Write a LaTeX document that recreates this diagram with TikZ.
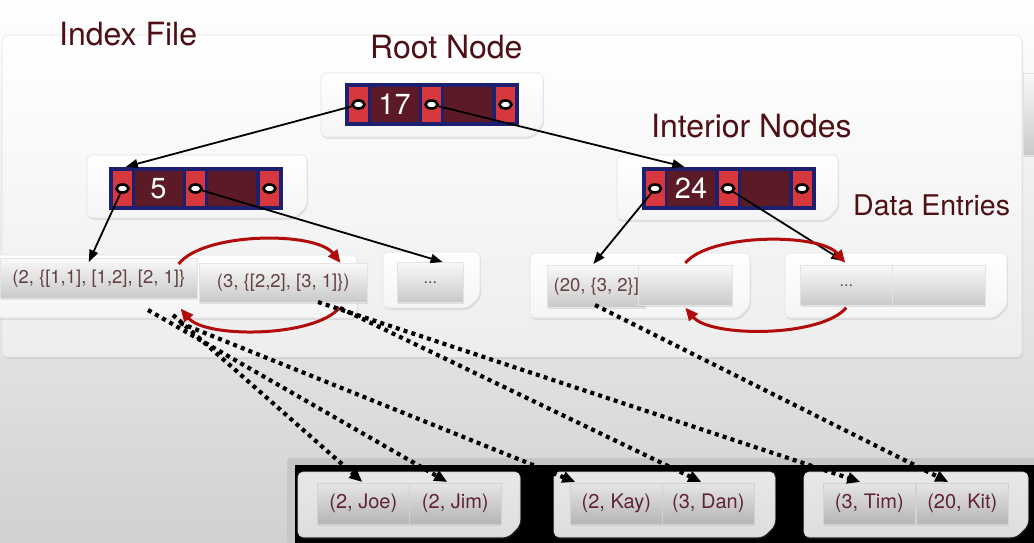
\documentclass[tikz,border=0pt]{standalone}
\usepackage{fontspec}
\setmainfont{TeX Gyre Heros}
\usetikzlibrary{arrows.meta,shadows,calc,shapes.geometric}
\definecolor{navy}{RGB}{28,32,110}
\definecolor{pred}{RGB}{214,56,62}
\definecolor{pdark}{RGB}{92,26,38}
\definecolor{maroon}{RGB}{78,16,20}
\definecolor{arrowred}{RGB}{176,12,12}
\definecolor{celltext}{RGB}{100,66,66}
\definecolor{bcelltext}{RGB}{96,36,52}
\tikzset{
 title/.style={text=maroon, font=\fontsize{32}{32}\selectfont, inner sep=0, anchor=base west},
 card/.style={draw=gray!22, line width=0.6, rounded corners=5, top color=white, bottom color=gray!8,
   drop shadow={opacity=0.18, shadow xshift=1pt, shadow yshift=-2pt}},
 dimcard/.style={card, draw=gray!35, top color=gray!18, bottom color=gray!26},
 cell/.style={rectangle, draw=gray!22, line width=0.6, top color=gray!5, bottom color=gray!42, inner sep=0,
   text=celltext, font=\fontsize{18.5}{18.5}\selectfont, minimum height=40,
   drop shadow={opacity=0.2, shadow xshift=0.5pt, shadow yshift=-1.5pt}},
 bcell/.style={cell, draw=gray!35, top color=gray!20, bottom color=gray!58, text=bcelltext,
   minimum width=92, minimum height=41, font=\fontsize{20}{20}\selectfont},
 recframe/.style={rectangle, fill=navy, minimum width=174, minimum height=43, inner sep=0},
 redc/.style={rectangle, fill=pred, minimum width=19, minimum height=35, inner sep=0},
 darkc/.style={rectangle, fill=pdark, minimum width=48, minimum height=35, inner sep=0, text=white,
   font=\fontsize{29}{29}\selectfont},
 ptr/.style={ellipse, draw=black, line width=2.6, fill=white, minimum width=12, minimum height=8, inner sep=0},
 blackarrow/.style={draw=black, line width=1.8, -{Triangle[length=12pt,width=9pt]}},
 redarrow/.style={draw=arrowred, line width=3, -{Triangle[length=13pt,width=11pt]}},
 dotarrow/.style={draw=black, line width=4.2, dash pattern=on 4pt off 4.2pt, -{Triangle[length=13pt,width=11pt]}},
}
\newcommand\bprec[4]{%
 \node[recframe] (#1) at (#2,#3) {};
 \node[redc] (#1-p1) at ($(#1)+(-73.5,0)$) {};
 \node[darkc] (#1-k1) at ($(#1)+(-37.5,0)$) {#4};
 \node[redc] (#1-p2) at ($(#1)+(-0.5,0)$) {};
 \node[darkc] (#1-k2) at ($(#1)+(36,0)$) {};
 \node[redc] (#1-p3) at ($(#1)+(73.5,0)$) {};
 \node[ptr] (#1-e1) at (#1-p1) {};
 \node[ptr] (#1-e2) at (#1-p2) {};
 \node[ptr] (#1-e3) at (#1-p3) {};
}
\newcommand\cardpath[5][card]{\path[#1] (#2,#3) -- (#4,#3) -- (#4,#5-12) -- (#4-12,#5) -- (#2,#5) -- cycle;}
\begin{document}
\begin{tikzpicture}[x=1pt,y=-1pt]
\useasboundingbox (0,0) rectangle (1034,542);
\clip (0,0) rectangle (1034,542);
% background
\shade[top color=white, bottom color=gray!36] (0,0) rectangle (1034,542);
% right partial element
\node[cell, minimum width=20, minimum height=82, anchor=north west] (edge) at (1023,73) {};
% index file box
\path[draw=gray!22, line width=0.6, rounded corners=6, top color=white, bottom color=gray!14,
  drop shadow={opacity=0.15, shadow xshift=1pt, shadow yshift=-2pt}] (2,35) rectangle (1022,357);
% titles
\node[title] (tIndex) at (59,45) {Index File};
\node[title] (tRoot) at (370,58) {Root Node};
\node[title] (tInt) at (651,137) {Interior Nodes};
\node[title, font=\fontsize{28.5}{28.5}\selectfont] (tData) at (853,215) {Data Entries};
% node cards
\cardpath{321}{73}{543}{137}
\cardpath{87}{155}{307}{218}
\cardpath{617}{155}{838}{220}
% records
\bprec{root}{432}{104.5}{17}
\bprec{L}{196}{188.5}{5}
\bprec{R}{728.5}{188.5}{24}
% data entry cards
\path[card] (-10,255) rectangle (357,318);
\node[cell, minimum width=197, anchor=north west] (e2) at (0,258) {(2, \{[1,1], [1,2], [2, 1]\}};
\node[cell, minimum width=168, minimum height=39, anchor=north west] (e3) at (199,263) {(3, \{[2,2], [3, 1]\})};
\cardpath{383}{252}{480}{308}
\node[cell, minimum width=66, anchor=north west, font=\fontsize{16}{16}\selectfont] (eDots) at (397,262) {...};
\cardpath{530}{253}{750}{318}
\node[cell, minimum width=98, minimum height=42, anchor=north west] (e20) at (547,265) {(20, \{3, 2\}]};
\node[cell, minimum width=94, anchor=north west] (blankA) at (638,265) {};
\cardpath{785}{253}{1007}{318}
\node[cell, minimum width=92, anchor=north west, font=\fontsize{16}{16}\selectfont] (eDots2) at (800,265) {...};
\node[cell, minimum width=93, anchor=north west] (blankB) at (892,265) {};
% data file (bottom)
\fill[gray!45, rounded corners=4] (287,458) rectangle (1045,552);
\fill[black] (295,465) rectangle (1045,552);
\cardpath[dimcard]{298}{472}{520}{537}
\cardpath[dimcard]{554}{472}{775}{537}
\cardpath[dimcard]{804}{472}{1028}{537}
\node[bcell, anchor=north west] (joe) at (317,483) {(2, Joe)};
\node[bcell, anchor=north west] (jim) at (409,483) {(2, Jim)};
\node[bcell, anchor=north west] (kay) at (570,483) {(2, Kay)};
\node[bcell, anchor=north west] (dan) at (662,483) {(3, Dan)};
\node[bcell, anchor=north west] (tim) at (823,483) {(3, Tim)};
\node[bcell, anchor=north west] (kit) at (916,483) {(20, Kit)};
% tree pointers
\draw[blackarrow] (root-e1) -- ([xshift=17pt]L.north west);
\draw[blackarrow] (root-e2) -- ([xshift=43pt]R.north west);
\draw[blackarrow] (L-e1) -- ([xshift=-10pt,yshift=-4pt]e2.north);
\draw[blackarrow] (L-e2) -- ([xshift=-21pt]eDots.north east);
\draw[blackarrow] (R-e1) -- ([xshift=-3pt,yshift=1pt]e20.north);
\draw[blackarrow] (R-e2) -- ([xshift=-3pt,yshift=4pt]eDots2.north);
% sibling links
\draw[redarrow] ([xshift=-19pt,yshift=-6pt]e2.north east) .. controls +(25,-32) and +(-25,-32) .. ([xshift=-27pt]e3.north east);
\draw[redarrow] ([xshift=-28pt,yshift=-5pt]e3.south east) .. controls +(-25,30) and +(25,30) .. ([xshift=-17pt,yshift=-10pt]e2.south east);
\draw[redarrow] ([yshift=2pt]blankA.north) .. controls +(25,-30) and +(-25,-30) .. ([xshift=-1pt,yshift=2pt]eDots2.north);
\draw[redarrow] ([yshift=-2pt]eDots2.south) .. controls +(-25,30) and +(25,30) .. ([yshift=-2pt]blankA.south);
% record ids
\coordinate (s1) at (173,315);
\coordinate (s2) at (148,310);
\coordinate (s3) at (180,323);
\coordinate (s4) at (340,308);
\coordinate (s5) at (318,302);
\coordinate (s6) at (595,305);
\draw[dotarrow] (s1) -- ([xshift=-1pt,yshift=1pt]joe.north);
\draw[dotarrow] (s2) -- ([xshift=-8pt,yshift=1pt]jim.north);
\draw[dotarrow] (s3) -- ([xshift=-41pt,yshift=1pt]kay.north);
\draw[dotarrow] (s4) -- ([xshift=-7pt,yshift=1pt]dan.north);
\draw[dotarrow] (s5) -- ([xshift=-9pt,yshift=1pt]tim.north);
\draw[dotarrow] (s6) -- ([xshift=-14pt,yshift=1pt]kit.north);
\end{tikzpicture}
\end{document}
